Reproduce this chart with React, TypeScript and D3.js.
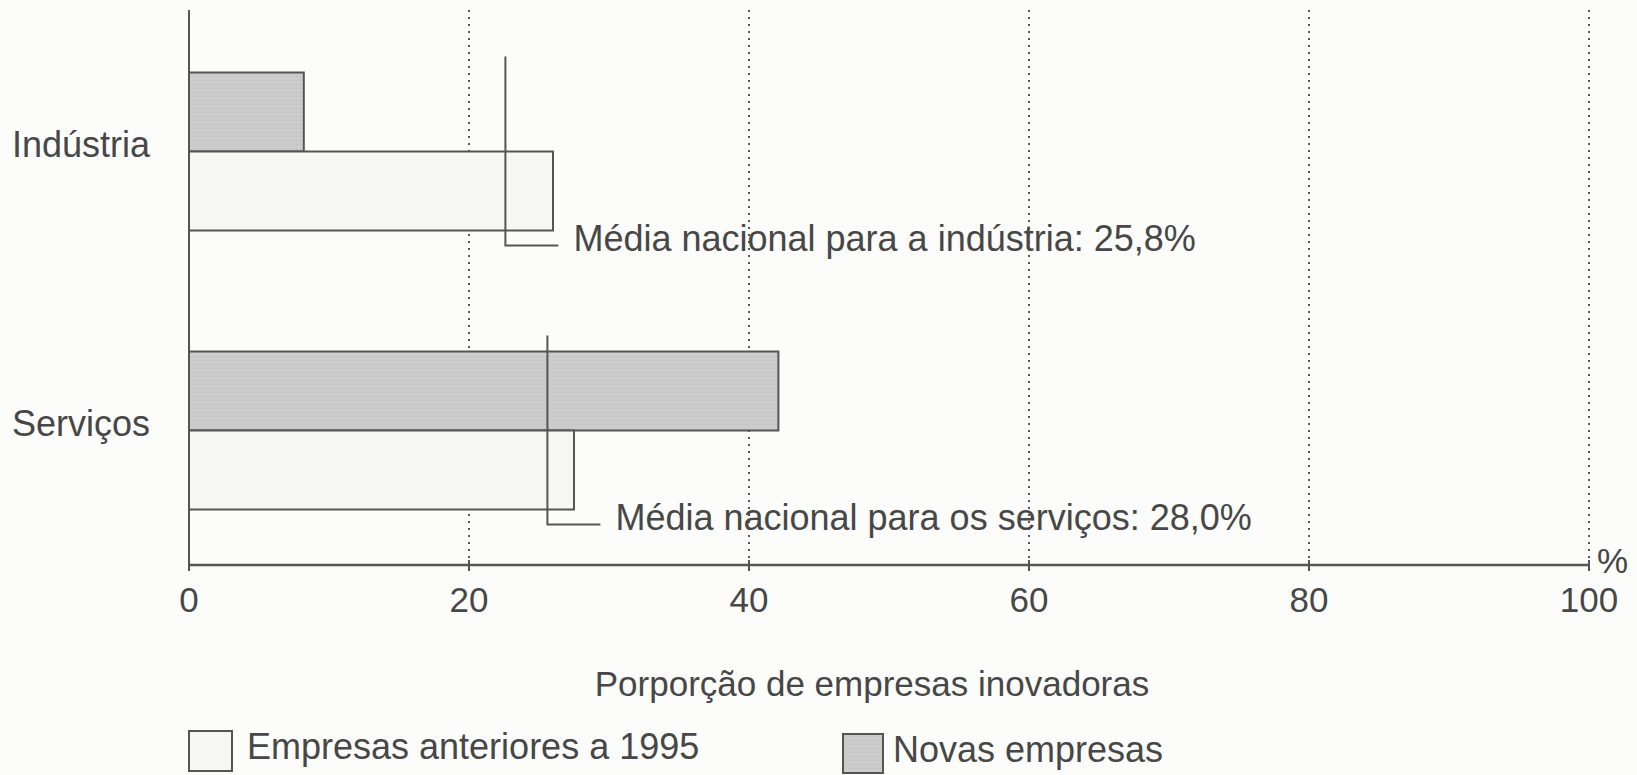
import React from "react";
import * as d3 from "d3";

const categories = ["Indústria", "Serviços"];
const novasEmpresas = [8.2, 42.1];
const empresasAnteriores = [26.0, 27.5];
const mediaNacional = [22.6, 25.6];
const mediaLabels = [
  "Média nacional para a indústria: 25,8%",
  "Média nacional para os serviços: 28,0%",
];
const xTicks = [0, 20, 40, 60, 80, 100];
const xTitle = "Porporção de empresas inovadoras";
const legendLabels = ["Empresas anteriores a 1995", "Novas empresas"];

const W = 1637;
const H = 775;
const FONT = "'Liberation Sans', Arial, Helvetica, sans-serif";
const INK = "#474747";
const LINE = "#555";
const GRAY = "#cbcbcb";
const WHITE = "#f6f6f4";

export default function App() {
  const x = d3.scaleLinear().domain([0, 100]).range([189, 1589]);
  const y = d3.scaleBand<string>().domain(categories).range([12, 570]);
  const axisY = 565;
  const top = 10;
  const barH = 79;

  return (
    <svg
      width={W}
      height={H}
      style={{ position: "absolute", left: 0, top: 0, background: "#fcfcfb" }}
      fontFamily={FONT}
    >
      <defs>
        <pattern id="grain" width="4" height="4" patternUnits="userSpaceOnUse">
          <rect width="4" height="4" fill={GRAY} />
          <rect x="0" y="0" width="1" height="1" fill="#bfbfbf" />
          <rect x="2" y="2" width="1" height="1" fill="#d5d5d5" />
        </pattern>
      </defs>

      {/* dotted gridlines */}
      {xTicks.filter((t) => t > 0).map((t) => (
        <line
          key={"g" + t}
          x1={x(t)}
          x2={x(t)}
          y1={top}
          y2={axisY}
          stroke={LINE}
          strokeWidth={2}
          strokeDasharray="2,5"
        />
      ))}

      {/* bars */}
      {categories.map((c, i) => {
        const cy = (y(c) as number) + y.bandwidth() / 2;
        return (
          <g key={c}>
            <rect
              x={x(0)}
              y={cy - barH}
              width={x(novasEmpresas[i]) - x(0)}
              height={barH}
              fill="url(#grain)"
              stroke={LINE}
              strokeWidth={2}
            />
            <rect
              x={x(0)}
              y={cy}
              width={x(empresasAnteriores[i]) - x(0)}
              height={barH}
              fill={WHITE}
              stroke={LINE}
              strokeWidth={2}
            />
          </g>
        );
      })}

      {/* mean lines */}
      {categories.map((c, i) => {
        const cy = (y(c) as number) + y.bandwidth() / 2;
        const mx = x(mediaNacional[i]);
        const y0 = cy - 95;
        const y1 = cy + 94;
        const hx = mx + 53;
        return (
          <g key={"m" + c}>
            <path
              d={`M${mx},${y0} L${mx},${y1} L${hx},${y1}`}
              fill="none"
              stroke={LINE}
              strokeWidth={2}
            />
            <text x={hx + 15} y={y1 + 5} fontSize={36} fill={INK}>
              {mediaLabels[i]}
            </text>
          </g>
        );
      })}

      {/* y axis */}
      <line x1={x(0)} x2={x(0)} y1={top} y2={axisY} stroke={LINE} strokeWidth={2} />
      {categories.map((c) => (
        <text
          key={"l" + c}
          x={150}
          y={(y(c) as number) + y.bandwidth() / 2 + 5}
          textAnchor="end"
          fontSize={36}
          fill={INK}
        >
          {c}
        </text>
      ))}

      {/* x axis */}
      <line x1={x(0)} x2={x(100)} y1={axisY} y2={axisY} stroke={LINE} strokeWidth={2.5} />
      {xTicks.map((t) => (
        <g key={"t" + t}>
          <line x1={x(t)} x2={x(t)} y1={axisY - 5} y2={axisY + 6} stroke={LINE} strokeWidth={2} />
          <text x={x(t)} y={612} textAnchor="middle" fontSize={35} fill={INK}>
            {t}
          </text>
        </g>
      ))}
      <text x={x(100) + 8} y={573} fontSize={35} fill={INK}>
        %
      </text>
      <text x={872} y={696} textAnchor="middle" fontSize={35} fill={INK}>
        {xTitle}
      </text>

      {/* legend */}
      <rect x={189} y={731} width={43} height={40} fill={WHITE} stroke={LINE} strokeWidth={2} />
      <text x={247} y={759} fontSize={36} fill={INK}>
        {legendLabels[0]}
      </text>
      <rect x={843} y={734} width={40} height={39} fill="url(#grain)" stroke={LINE} strokeWidth={2} />
      <text x={893} y={762} fontSize={36} fill={INK}>
        {legendLabels[1]}
      </text>
    </svg>
  );
}
